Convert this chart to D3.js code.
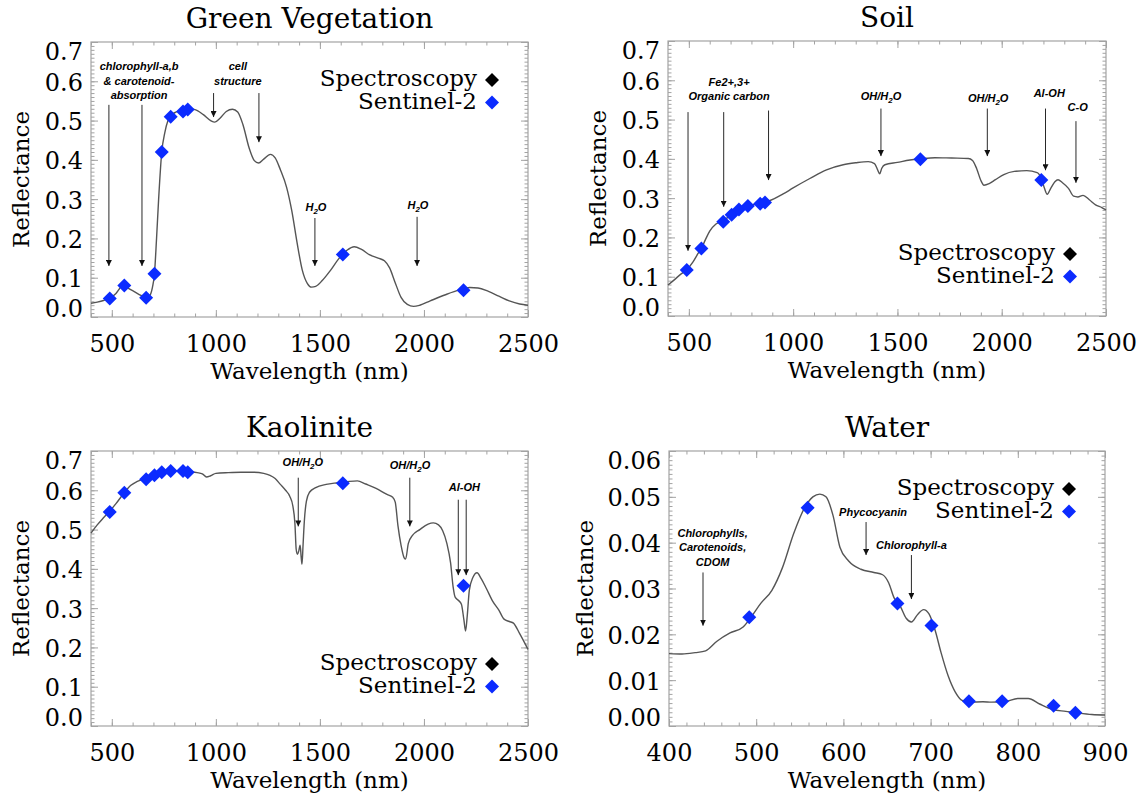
<!DOCTYPE html>
<html>
<head>
<meta charset="utf-8">
<script src="https://cdn.jsdelivr.net/npm/d3@7"></script>
<style>
  html, body { margin: 0; padding: 0; background: #fff; }
  svg { display: block; }
</style>
</head>
<body>
<script>
(function( w ) {

"use strict";

/* ---- data: [wavelength nm, reflectance] ---- */
var vegSpectrum = [
    [400,0.035],[430,0.038],[460,0.042],[490,0.048],[520,0.060],[545,0.077],[560,0.081],[580,0.073],
    [610,0.064],[640,0.055],[665,0.049],[680,0.053],[695,0.075],[705,0.110],[715,0.200],[725,0.300],
    [740,0.420],[755,0.470],[770,0.500],[783,0.512],[810,0.522],[842,0.527],[870,0.530],[900,0.528],
    [940,0.515],[975,0.500],[995,0.496],[1020,0.506],[1050,0.523],[1080,0.529],[1105,0.522],[1130,0.490],
    [1160,0.430],[1185,0.398],[1205,0.392],[1230,0.402],[1262,0.414],[1285,0.405],[1310,0.375],[1340,0.330],
    [1365,0.270],[1390,0.190],[1415,0.120],[1440,0.085],[1460,0.076],[1480,0.078],[1510,0.092],[1550,0.118],
    [1590,0.148],[1630,0.170],[1665,0.179],[1700,0.172],[1740,0.158],[1780,0.150],[1810,0.143],[1835,0.125],
    [1860,0.090],[1890,0.050],[1920,0.032],[1950,0.027],[1980,0.030],[2030,0.041],[2100,0.056],[2170,0.069],
    [2220,0.075],[2260,0.074],[2310,0.065],[2360,0.053],[2410,0.041],[2460,0.033],[2500,0.030]
],
    vegBands = [[490,0.047],[560,0.080],[665,0.049],[705,0.110],[740,0.420],[783,0.510],[842,0.523],[865,0.528],[1610,0.159],[2190,0.068]],

    soilSpectrum = [
    [400,0.079],[430,0.092],[460,0.106],[490,0.118],[520,0.138],[545,0.160],[560,0.172],[580,0.195],
    [600,0.216],[630,0.234],[665,0.243],[705,0.258],[740,0.270],[783,0.280],[842,0.287],[880,0.292],
    [950,0.310],[1000,0.326],[1080,0.350],[1160,0.372],[1240,0.385],[1300,0.390],[1360,0.393],[1390,0.388],
    [1405,0.372],[1415,0.362],[1425,0.376],[1440,0.385],[1500,0.391],[1560,0.397],[1610,0.400],[1680,0.403],
    [1760,0.402],[1840,0.401],[1860,0.396],[1880,0.375],[1900,0.345],[1915,0.333],[1940,0.337],[1970,0.347],
    [2010,0.360],[2060,0.368],[2120,0.370],[2170,0.365],[2190,0.350],[2205,0.325],[2218,0.310],[2235,0.325],
    [2255,0.342],[2270,0.347],[2290,0.340],[2320,0.325],[2345,0.305],[2365,0.303],[2390,0.307],[2420,0.296],
    [2450,0.283],[2480,0.276],[2500,0.270]
],
    soilBands = [[490,0.117],[560,0.172],[665,0.240],[705,0.258],[740,0.271],[783,0.280],[842,0.286],[865,0.289],[1610,0.399],[2190,0.346]],

    kaolSpectrum = [
    [400,0.491],[430,0.512],[460,0.530],[490,0.547],[520,0.566],[560,0.594],[590,0.612],[620,0.622],
    [665,0.630],[705,0.638],[740,0.645],[783,0.650],[842,0.650],[870,0.648],[910,0.645],[935,0.642],
    [955,0.634],[975,0.637],[1000,0.643],[1060,0.645],[1120,0.646],[1180,0.646],[1230,0.643],[1260,0.638],
    [1285,0.630],[1310,0.615],[1335,0.600],[1355,0.585],[1370,0.560],[1380,0.515],[1386,0.450],[1392,0.437],
    [1398,0.445],[1405,0.460],[1410,0.430],[1414,0.412],[1419,0.460],[1425,0.520],[1435,0.572],[1450,0.595],
    [1480,0.607],[1530,0.615],[1580,0.619],[1630,0.622],[1680,0.624],[1720,0.616],[1770,0.605],[1820,0.590],
    [1850,0.582],[1862,0.570],[1875,0.510],[1890,0.460],[1905,0.428],[1912,0.425],[1925,0.465],[1945,0.485],
    [1980,0.500],[2020,0.514],[2045,0.517],[2070,0.512],[2090,0.497],[2110,0.465],[2128,0.415],[2140,0.355],
    [2150,0.328],[2165,0.320],[2180,0.310],[2192,0.270],[2200,0.242],[2208,0.280],[2218,0.345],[2235,0.378],
    [2255,0.390],[2275,0.375],[2300,0.350],[2330,0.318],[2360,0.295],[2385,0.272],[2410,0.266],[2430,0.262],
    [2460,0.235],[2500,0.195]
],
    kaolBands = [[490,0.545],[560,0.594],[665,0.628],[705,0.638],[740,0.646],[783,0.649],[842,0.649],[865,0.646],[1610,0.618],[2190,0.357]],

    waterSpectrum = [
    [400,0.0158],[415,0.0157],[430,0.0160],[442,0.0164],[455,0.0185],[470,0.0203],[485,0.0216],[495,0.0240],
    [505,0.0267],[518,0.0296],[530,0.0345],[543,0.0420],[556,0.0478],[565,0.0500],[573,0.0506],[580,0.0500],
    [588,0.0460],[596,0.0390],[606,0.0360],[620,0.0342],[635,0.0335],[645,0.0330],[652,0.0312],[658,0.0280],
    [665,0.0262],[672,0.0235],[678,0.0227],[685,0.0243],[692,0.0254],[698,0.0245],[705,0.0210],[712,0.0160],
    [720,0.0110],[728,0.0075],[736,0.0056],[745,0.0052],[760,0.0053],[770,0.0052],[785,0.0053],[800,0.0060],
    [812,0.0060],[825,0.0048],[840,0.0036],[855,0.0032],[870,0.0028],[885,0.0025],[900,0.0024]
],
    waterBands = [[492,0.0237],[559,0.0476],[662,0.0267],[701,0.0219],[744,0.0054],[782,0.0054],[841,0.0044],[866,0.0029]],

    /* annotation text: [wavelength, reflectance of first baseline, lines] ("_" = subscript) */
    vegNotes = [
        [631, 0.628, ["chlorophyll-a,b", "& carotenoid-", "absorption"]],
        [1106, 0.628, ["cell", "structure"]],
        [1481, 0.270, ["H_2O"]],
        [1971, 0.275, ["H_2O"]]
    ],
    vegArrows = [[486,0.54,0.13],[645,0.54,0.13],[989,0.57,0.509],[1207,0.57,0.445],[1476,0.252,0.13],[1967,0.255,0.13]],

    soilNotes = [
        [693, 0.586, ["Fe2+,3+", "Organic carbon"]],
        [1421, 0.549, ["OH/H_2O"]],
        [1935, 0.545, ["OH/H_2O"]],
        [2228, 0.557, ["Al-OH"]],
        [2364, 0.523, ["C-O"]]
    ],
    soilArrows = [[496,0.519,0.166],[667,0.519,0.278],[882,0.523,0.346],[1421,0.528,0.407],[1931,0.528,0.407],[2210,0.528,0.371],[2356,0.496,0.339]],

    kaolNotes = [
        [1418, 0.661, ["OH/H_2O"]],
        [1933, 0.655, ["OH/H_2O"]],
        [2194, 0.598, ["Al-OH"]]
    ],
    kaolArrows = [[1396,0.632,0.508],[1932,0.632,0.508],[2165,0.576,0.384],[2203,0.576,0.384]],

    waterNotes = [
        [450, 0.0413, ["Chlorophylls,", "Carotenoids,", "CDOM"]],
        [634, 0.0458, ["Phycocyanin"]],
        [678, 0.0386, ["Chlorophyll-a"]]
    ],
    waterArrows = [[439,0.0335,0.0219],[626,0.0445,0.0373],[678,0.0373,0.0277]],

    /* ticks */
    wideTicksX = [500, 1000, 1500, 2000, 2500],
    visTicksX  = [400, 500, 600, 700, 800, 900],
    reflTicks  = [0.0, 0.1, 0.2, 0.3, 0.4, 0.5, 0.6, 0.7],
    waterTicks = [0.00, 0.01, 0.02, 0.03, 0.04, 0.05, 0.06],
    legendLabels = ["Spectroscopy", "Sentinel-2"],

    /* settings */
    _d = {
        width : 1143, height : 801,
        serif : "'DejaVu Serif'",
        sans : "'Liberation Sans'",
        frameColor : "#a3a3a3",
        lineColor : "#555555",
        blue : "#0b2bff",
        lineGap : 14.5
    },

    panels = [
        { title : "Green Vegetation", frame : { x0:91, x1:528, y0:42, y1:317 },
          xDomain : [400,2500], yDomain : [0,0.7], xTicks : wideTicksX, xMinor : 100,
          yTicks : reflTicks, yMinor : 0.01, yFmt : ".1f", ylabOff : 62,
          spectrum : vegSpectrum, bands : vegBands, notes : vegNotes, arrows : vegArrows, legend : "top" },
        { title : "Soil", frame : { x0:668, x1:1106, y0:41, y1:316 },
          xDomain : [400,2500], yDomain : [0,0.7], xTicks : wideTicksX, xMinor : 100,
          yTicks : reflTicks, yMinor : 0.01, yFmt : ".1f", ylabOff : 62,
          spectrum : soilSpectrum, bands : soilBands, notes : soilNotes, arrows : soilArrows, legend : "bottom" },
        { title : "Kaolinite", frame : { x0:91, x1:528, y0:451, y1:726 },
          xDomain : [400,2500], yDomain : [0,0.7], xTicks : wideTicksX, xMinor : 100,
          yTicks : reflTicks, yMinor : 0.01, yFmt : ".1f", ylabOff : 62,
          spectrum : kaolSpectrum, bands : kaolBands, notes : kaolNotes, arrows : kaolArrows, legend : "bottom" },
        { title : "Water", frame : { x0:669, x1:1105, y0:451, y1:726 },
          xDomain : [400,900], yDomain : [0,0.06], xTicks : visTicksX, xMinor : 20,
          yTicks : waterTicks, yMinor : 0.001, yFmt : ".2f", ylabOff : 76,
          spectrum : waterSpectrum, bands : waterBands, notes : waterNotes, arrows : waterArrows, legend : "top" }
    ],

    /* range of minor tick values, built from the step */
    _minor = function( domain, step ) {
        var out = [], n = Math.round((domain[1] - domain[0]) / step), i;
        for( i = 0; i <= n; i++ ){ out.push(domain[0] + i * step); }
        return out;
    },

    /* serif text helper */
    _serif = function( sel, size ) {
        return sel.style("font-family", _d.serif).style("font-size", size + "px").attr("fill", "#000");
    },

    /* write a label, "_" makes the next char a subscript */
    _writeText = function( sel, str ) {
        var parts = str.split("_"), i;
        sel.append("tspan").text(parts[0]);
        for( i = 1; i < parts.length; i++ ){
            sel.append("tspan").attr("dy", 3).style("font-size", "8px").text(parts[i].charAt(0));
            sel.append("tspan").attr("dy", -3).text(parts[i].slice(1));
        }
    },

    _styleTicks = function( g ) {
        g.attr("font-family", null).attr("font-size", null);
        g.select(".domain").remove();
        g.selectAll(".tick line").attr("stroke", _d.frameColor);
    },

    _diamond = d3.symbol().type(d3.symbolSquare).size(98),

    /* draws one panel */
    _drawPanel = function( svg, p ) {
        var f = p.frame,
            x = d3.scaleLinear().domain(p.xDomain).range([f.x0, f.x1]),
            y = d3.scaleLinear().domain(p.yDomain).range([f.y1, f.y0]),
            g = svg.append("g"),
            xm = _minor(p.xDomain, p.xMinor),
            ym = _minor(p.yDomain, p.yMinor),
            fmt = d3.format(p.yFmt),
            line = d3.line().x(function(d){ return x(d[0]); }).y(function(d){ return y(d[1]); }).curve(d3.curveMonotoneX),
            lx, ly, i;

        /* minor ticks on all four sides */
        g.append("g").attr("transform", "translate(0," + f.y1 + ")")
            .call(d3.axisBottom(x).tickValues(xm).tickSize(-3.5).tickFormat("")).call(_styleTicks);
        g.append("g").attr("transform", "translate(0," + f.y0 + ")")
            .call(d3.axisTop(x).tickValues(xm).tickSize(-3.5).tickFormat("")).call(_styleTicks);
        g.append("g").attr("transform", "translate(" + f.x0 + ",0)")
            .call(d3.axisLeft(y).tickValues(ym).tickSize(-3.5).tickFormat("")).call(_styleTicks);
        g.append("g").attr("transform", "translate(" + f.x1 + ",0)")
            .call(d3.axisRight(y).tickValues(ym).tickSize(-3.5).tickFormat("")).call(_styleTicks);

        /* major ticks */
        g.append("g").attr("transform", "translate(0," + f.y0 + ")")
            .call(d3.axisTop(x).tickValues(p.xTicks).tickSize(-7).tickFormat("")).call(_styleTicks);
        g.append("g").attr("transform", "translate(" + f.x1 + ",0)")
            .call(d3.axisRight(y).tickValues(p.yTicks).tickSize(-7).tickFormat("")).call(_styleTicks);

        g.append("g").attr("transform", "translate(0," + f.y1 + ")")
            .call(d3.axisBottom(x).tickValues(p.xTicks).tickSize(-7).tickFormat(d3.format("d")))
            .call(_styleTicks)
            .call(function( a ) {
                _serif(a.selectAll("text").attr("y", 35).attr("dy", 0), 24);
            });

        g.append("g").attr("transform", "translate(" + f.x0 + ",0)")
            .call(d3.axisLeft(y).tickValues(p.yTicks).tickSize(-7).tickPadding(8).tickFormat(fmt))
            .call(_styleTicks)
            .call(function( a ) {
                _serif(a.selectAll("text")
                    .attr("dy", 0)
                    .attr("y", function( d ) {
                        var yy = y(d), base = Math.min(Math.max(yy + 9, f.y0 + 17), f.y1 - 1);
                        return base - yy;
                    }), 24);
            });

        /* frame */
        g.append("rect")
            .attr("x", f.x0).attr("y", f.y0)
            .attr("width", f.x1 - f.x0).attr("height", f.y1 - f.y0)
            .attr("fill", "none").attr("stroke", _d.frameColor).attr("stroke-width", 1.2);

        /* titles */
        _serif(g.append("text").text(p.title), 28)
            .attr("x", (f.x0 + f.x1) / 2).attr("y", f.y0 - 14)
            .attr("text-anchor", "middle");
        _serif(g.append("text").text("Wavelength (nm)"), 23)
            .attr("x", (f.x0 + f.x1) / 2).attr("y", f.y1 + 62)
            .attr("text-anchor", "middle");
        _serif(g.append("text").text("Reflectance"), 23)
            .attr("transform", "translate(" + (f.x0 - p.ylabOff) + "," + ((f.y0 + f.y1) / 2) + ") rotate(-90)")
            .attr("text-anchor", "middle");

        /* spectrum */
        g.append("path").datum(p.spectrum)
            .attr("d", line).attr("fill", "none")
            .attr("stroke", _d.lineColor).attr("stroke-width", 1.4);

        /* annotation arrows */
        g.selectAll(".arrow").data(p.arrows).enter().append("line")
            .attr("class", "arrow")
            .attr("x1", function(d){ return x(d[0]); }).attr("x2", function(d){ return x(d[0]); })
            .attr("y1", function(d){ return y(d[1]); }).attr("y2", function(d){ return y(d[2]); })
            .attr("stroke", "#111").attr("stroke-width", 0.9)
            .attr("marker-end", "url(#arrowhead)");

        /* annotation text */
        p.notes.forEach(function( n ) {
            n[2].forEach(function( str, k ) {
                var t = g.append("text")
                    .attr("x", x(n[0])).attr("y", y(n[1]) + k * _d.lineGap)
                    .attr("text-anchor", "middle")
                    .style("font-family", _d.sans).style("font-size", "11px")
                    .style("font-weight", "bold").style("font-style", "italic");
                _writeText(t, str);
            });
        });

        /* sentinel-2 bands */
        g.selectAll(".band").data(p.bands).enter().append("path")
            .attr("class", "band")
            .attr("d", _diamond)
            .attr("transform", function(d){ return "translate(" + x(d[0]) + "," + y(d[1]) + ") rotate(45)"; })
            .attr("fill", _d.blue);

        /* legend */
        lx = f.x1 - 51;
        ly = p.legend === "top" ? f.y0 + 44 : f.y1 - 56;
        for( i = 0; i < legendLabels.length; i++ ){
            _serif(g.append("text").text(legendLabels[i]), 23)
                .attr("x", lx).attr("y", ly + i * 22.5)
                .attr("text-anchor", "end");
            g.append("path").attr("d", _diamond)
                .attr("transform", "translate(" + (lx + 15) + "," + (ly + i * 22.5 - 6) + ") rotate(45)")
                .attr("fill", i === 0 ? "#000" : _d.blue);
        }
    },

    domEntry = function( ) {
        var svg = d3.select("body").append("svg")
            .attr("width", _d.width).attr("height", _d.height)
            .style("background", "#fff");

        svg.append("defs").append("marker")
            .attr("id", "arrowhead")
            .attr("viewBox", "0 0 10 10")
            .attr("refX", 10).attr("refY", 5)
            .attr("markerWidth", 6).attr("markerHeight", 6)
            .attr("markerUnits", "userSpaceOnUse")
            .attr("orient", "auto")
          .append("path").attr("d", "M0,0 L10,5 L0,10 z").attr("fill", "#111");

        panels.forEach(function( p ) { _drawPanel(svg, p); });
    };

domEntry( );

})( window );
</script>
</body>
</html>
